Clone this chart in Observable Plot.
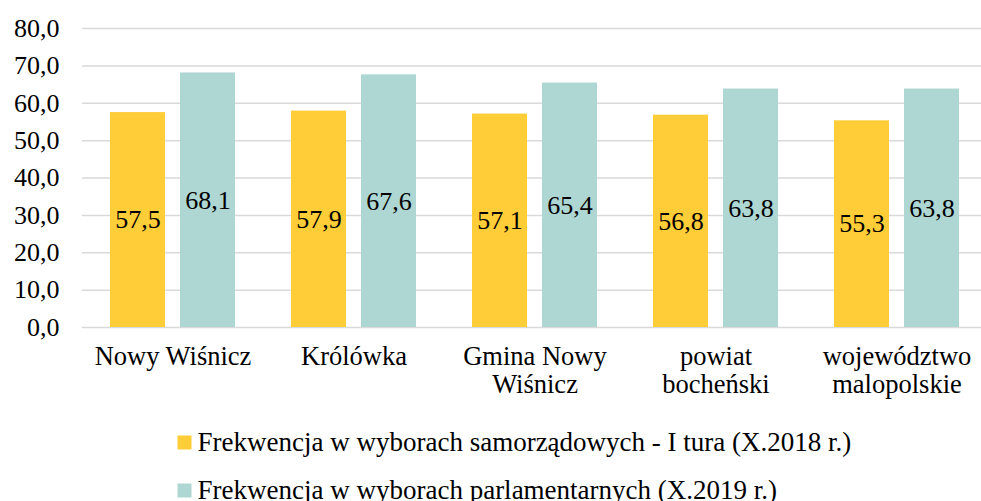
<!DOCTYPE html>
<html>
<head>
<meta charset="utf-8">
<script src="https://cdn.jsdelivr.net/npm/d3@7"></script>
<script src="https://cdn.jsdelivr.net/npm/@observablehq/plot@0.6"></script>
<style>
  html, body { margin: 0; padding: 0; background: #fff; }
  #wrap { position: relative; width: 981px; height: 501px; overflow: hidden; font-family: "Liberation Serif", "Times New Roman", serif; }
  #wrap svg { display: block; }
  #wrap svg text, #wrap svg tspan { font-family: "Liberation Serif", "Times New Roman", serif; }
</style>
</head>
<body>
<div id="wrap">
  <div id="chart"></div>
  <div id="legend"></div>
</div>
<script>
const categories = ["Nowy Wiśnicz", "Królówka", "Gmina Nowy\nWiśnicz", "powiat\nbocheński", "województwo\nmalopolskie"];
const seriesNames = ["Frekwencja w wyborach samorządowych - I tura (X.2018 r.)", "Frekwencja w wyborach parlamentarnych (X.2019 r.)"];
const local2018 = [57.5, 57.9, 57.1, 56.8, 55.3];
const parl2019 = [68.1, 67.6, 65.4, 63.8, 63.8];
const yTicks = [0, 10, 20, 30, 40, 50, 60, 70, 80];
const colors = ["#FFCD37", "#AED6D2"];
const serif = "Liberation Serif";

const fmt = v => v.toFixed(1).replace(".", ",");

const data = [];
categories.forEach((c, i) => {
  data.push({cat: c, series: seriesNames[0], value: local2018[i]});
  data.push({cat: c, series: seriesNames[1], value: parl2019[i]});
});

function fixFont(svg) {
  d3.select(svg).selectAll("text, tspan").style("font-family", "'Liberation Serif', 'Times New Roman', serif");
}

function render() {
  const chart = Plot.plot({
    width: 981,
    height: 410,
    marginLeft: 80,
    marginRight: -8,
    marginTop: 28,
    marginBottom: 83,
    style: {fontSize: "26px", fontFamily: serif, color: "#000", background: "#fff"},
    fx: {domain: categories, padding: 0, axis: null, label: null},
    x: {domain: seriesNames, axis: null, paddingInner: 0.211, paddingOuter: 0.385},
    y: {domain: [0, 80], axis: null},
    color: {domain: seriesNames, range: colors},
    marks: [
      Plot.ruleY(yTicks, {stroke: "#D9D9D9", strokeWidth: 1.5}),
      Plot.barY(data, {fx: "cat", x: "series", y: "value", fill: "series"}),
      Plot.text(data, {fx: "cat", x: "series", y: d => d.value / 2, text: d => fmt(d.value), fontSize: 26, fontFamily: serif, fill: "#000"}),
      Plot.text(categories, {fx: d => d, text: d => d, frameAnchor: "bottom", lineAnchor: "top", dy: 17, lineHeight: 1.07, fontSize: 26.5, fontFamily: serif, fill: "#000"}),
      Plot.text(yTicks, {fx: () => categories[0], y: d => d, text: d => fmt(d), frameAnchor: "left", textAnchor: "end", dx: -23, fontSize: 26, fontFamily: serif, fill: "#000"})
    ]
  });
  fixFont(chart);

  const legendSvg = Plot.plot({
    width: 981,
    height: 91,
    marginTop: 32,
    marginBottom: 11,
    marginLeft: 0,
    marginRight: 0,
    style: {fontSize: "27px", fontFamily: serif, color: "#000", background: "#fff"},
    y: {domain: seriesNames, type: "point", padding: 0, axis: null},
    color: {domain: seriesNames, range: colors},
    marks: [
      Plot.dot(seriesNames, {y: d => d, frameAnchor: "left", dx: 184, symbol: "square", r: 7.9, fill: d => d, stroke: "none"}),
      Plot.text(seriesNames, {y: d => d, text: d => d, frameAnchor: "left", textAnchor: "start", dx: 197, fontSize: 27, fontFamily: serif, fill: "#000"})
    ]
  });
  fixFont(legendSvg);

  document.getElementById("chart").replaceChildren(chart);
  document.getElementById("legend").replaceChildren(legendSvg);
}

render();
if (document.fonts && document.fonts.load) {
  document.fonts.load("26px 'Liberation Serif'").then(render).catch(() => {});
}
</script>
</body>
</html>
